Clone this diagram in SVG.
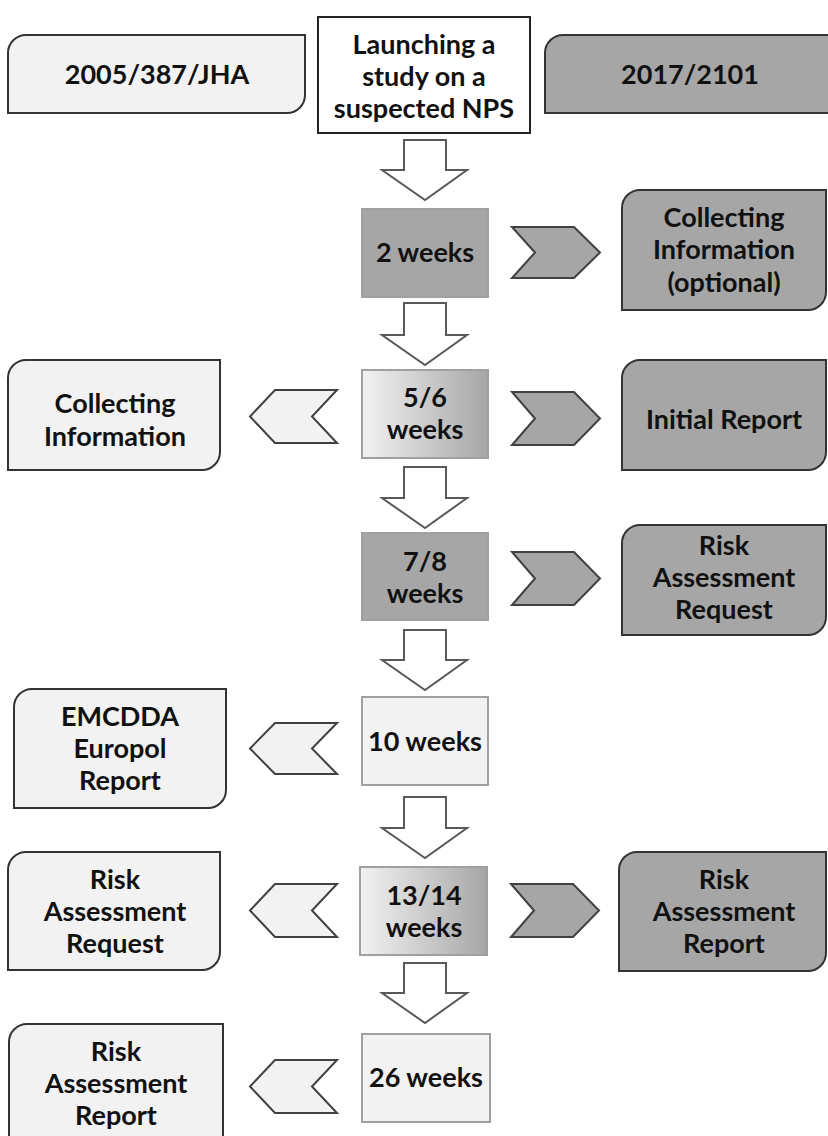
<svg xmlns="http://www.w3.org/2000/svg" width="828" height="1136" viewBox="0 0 828 1136">
<defs>
<linearGradient id="grad" x1="0" y1="0" x2="1" y2="0">
<stop offset="0" stop-color="#f2f2f2"/>
<stop offset="1" stop-color="#a6a6a6"/>
</linearGradient>
<style>
text{font-family:Lato,"Liberation Sans",sans-serif;font-weight:bold;font-size:27px;fill:#111;text-anchor:middle}
.light{fill:#f2f2f2;stroke:#333;stroke-width:2}
.dark{fill:#a6a6a6;stroke:#333;stroke-width:2}
.wk{stroke:#a0a0a0;stroke-width:2}
.wdark{fill:#a6a6a6}
.wlight{fill:#f2f2f2}
.wgrad{fill:url(#grad)}
.chl{fill:#f2f2f2;stroke:#404040;stroke-width:2}
.chd{fill:#a6a6a6;stroke:#404040;stroke-width:2}
.down{fill:#fff;stroke:#595959;stroke-width:2}
</style>
</defs>
<rect width="828" height="1136" fill="#fff"/>

<g id="n-2005">
<path class="light" d="M26,35 H305 V95 A18,18 0 0 1 287,113 H8 V53 A18,18 0 0 1 26,35 Z"/>
<text x="157" y="84">2005/387/JHA</text>
</g>
<g id="n-launch">
<rect x="318" y="17" width="212" height="116" fill="#fff" stroke="#222" stroke-width="2"/>
<text x="424" y="54">Launching a</text>
<text x="424" y="86">study on a</text>
<text x="424" y="118">suspected NPS</text>
</g>
<g id="n-2017">
<path class="dark" d="M563,35 H835 V113 H545 V53 A18,18 0 0 1 563,35 Z"/>
<text x="690" y="84">2017/2101</text>
</g>

<g id="connectors">
<path class="down" d="M404,140 H446 V170 H467 L425,200 L382,170 H404 Z"/>
<path class="down" d="M404,303 H446 V335 H467 L425,365 L382,335 H404 Z"/>
<path class="down" d="M404,467 H446 V498 H467 L425,528 L382,498 H404 Z"/>
<path class="down" d="M404,630 H446 V660 H467 L425,690 L382,660 H404 Z"/>
<path class="down" d="M404,797 H446 V828 H467 L425,858 L382,828 H404 Z"/>
<path class="down" d="M404,963 H446 V993 H467 L425,1023 L382,993 H404 Z"/>

<polygon class="chd" points="512,227 574,227 600,252.5 574,278 512,278 535,252.5"/>
<polygon class="chl" points="337,390 275,390 250,416.5 275,443 337,443 312,416.5"/>
<polygon class="chd" points="512,392 574,392 600,418.5 574,445 512,445 535,418.5"/>
<polygon class="chd" points="512,552 574,552 600,578.5 574,605 512,605 535,578.5"/>
<polygon class="chl" points="337,723 275,723 250,748.5 275,774 337,774 312,748.5"/>
<polygon class="chl" points="337,884 275,884 250,910.5 275,937 337,937 312,910.5"/>
<polygon class="chd" points="511,884 573,884 599,910.5 573,937 511,937 534,910.5"/>
<polygon class="chl" points="337,1060 275,1060 250,1086.5 275,1113 337,1113 312,1086.5"/>
</g>

<g id="n-2weeks">
<rect class="wk wdark" x="362" y="209" width="126" height="88"/>
<text x="425" y="262">2 weeks</text>
</g>
<g id="n-collect-opt">
<path class="dark" d="M640,190 H826 V292 A18,18 0 0 1 808,310 H622 V208 A18,18 0 0 1 640,190 Z"/>
<text x="724" y="227">Collecting</text>
<text x="724" y="259">Information</text>
<text x="724" y="292">(optional)</text>
</g>

<g id="n-56weeks">
<rect class="wk wgrad" x="362" y="370" width="126" height="88"/>
<text x="425" y="407">5/6</text>
<text x="425" y="439">weeks</text>
</g>
<g id="n-collect">
<path class="light" d="M26,360 H220 V452 A18,18 0 0 1 202,470 H8 V378 A18,18 0 0 1 26,360 Z"/>
<text x="115" y="413">Collecting</text>
<text x="115" y="446">Information</text>
</g>
<g id="n-initial">
<path class="dark" d="M640,360 H826 V452 A18,18 0 0 1 808,470 H622 V378 A18,18 0 0 1 640,360 Z"/>
<text x="724" y="429">Initial Report</text>
</g>

<g id="n-78weeks">
<rect class="wk wdark" x="362" y="533" width="126" height="87"/>
<text x="425" y="571">7/8</text>
<text x="425" y="603">weeks</text>
</g>
<g id="n-rar-right">
<path class="dark" d="M640,525 H826 V617 A18,18 0 0 1 808,635 H622 V543 A18,18 0 0 1 640,525 Z"/>
<text x="724" y="555">Risk</text>
<text x="724" y="587">Assessment</text>
<text x="724" y="619">Request</text>
</g>

<g id="n-10weeks">
<rect class="wk wlight" x="362" y="697" width="126" height="88"/>
<text x="425" y="751">10 weeks</text>
</g>
<g id="n-emcdda">
<path class="light" d="M32,689 H226 V790 A18,18 0 0 1 208,808 H14 V707 A18,18 0 0 1 32,689 Z"/>
<text x="120" y="726">EMCDDA</text>
<text x="120" y="758">Europol</text>
<text x="120" y="790">Report</text>
</g>

<g id="n-1314weeks">
<rect class="wk wgrad" x="360" y="867" width="127" height="88"/>
<text x="424" y="905">13/14</text>
<text x="424" y="937">weeks</text>
</g>
<g id="n-rar-left">
<path class="light" d="M26,852 H220 V952 A18,18 0 0 1 202,970 H8 V870 A18,18 0 0 1 26,852 Z"/>
<text x="115" y="889">Risk</text>
<text x="115" y="921">Assessment</text>
<text x="115" y="953">Request</text>
</g>
<g id="n-rarep-right">
<path class="dark" d="M637,852 H826 V953 A18,18 0 0 1 808,971 H619 V870 A18,18 0 0 1 637,852 Z"/>
<text x="724" y="889">Risk</text>
<text x="724" y="921">Assessment</text>
<text x="724" y="953">Report</text>
</g>

<g id="n-26weeks">
<rect class="wk wlight" x="362" y="1034" width="128" height="88"/>
<text x="426" y="1087">26 weeks</text>
</g>
<g id="n-rarep-left">
<path class="light" d="M27,1024 H223 V1136 A18,18 0 0 1 205,1154 H9 V1042 A18,18 0 0 1 27,1024 Z"/>
<text x="116" y="1061">Risk</text>
<text x="116" y="1093">Assessment</text>
<text x="116" y="1125">Report</text>
</g>
</svg>
